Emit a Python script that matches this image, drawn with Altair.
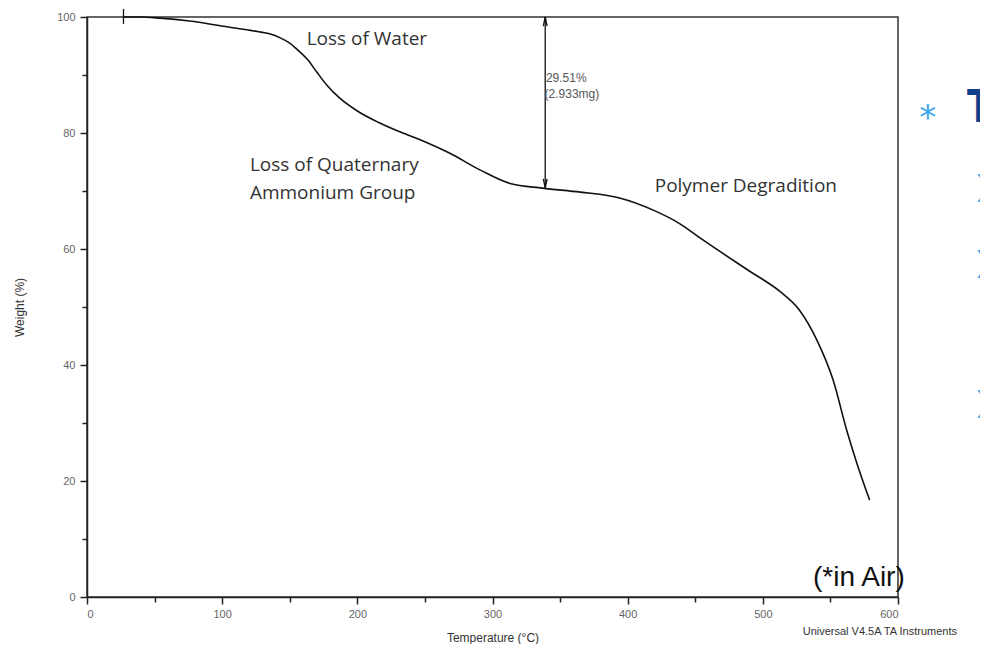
import altair as alt
import pandas as pd

# TGA curve (Temperature °C, Weight %)
temps = [27, 39, 54, 76, 101, 126, 135, 143, 150, 155, 163, 170, 178, 187, 200, 215,
         231.5, 250, 268.5, 291, 313, 337, 365, 394, 419, 439, 453, 490, 512.6, 527,
         540, 552, 562, 569.5, 579]
weights = [100, 100, 99.8, 99.3, 98.4, 97.5, 97.1, 96.4, 95.5, 94.5, 92.7, 90.5, 88.1,
           86.0, 83.8, 81.9, 80.2, 78.5, 76.5, 73.6, 71.3, 70.5, 69.8, 68.8, 66.7, 64.3,
           62.0, 56.2, 52.7, 49.5, 44.3, 37.4, 28.8, 23.1, 16.7]

# start marker and step arrow
start_T = [27]
start_W = [98.8]
start_W2 = [101.4]
arrow_T = [339]
arrow_top = [100]
arrow_bottom = [70.5]

# annotations
big_labels = ["Loss of Water", "Loss of Quaternary", "Ammonium Group", "Polymer Degradition"]
big_T = [162.5, 120.5, 120.5, 420]
big_W = [96.2, 74.4, 69.6, 70.8]

small_labels = ["29.51%", "(2.933mg)"]
small_T = [339.5, 338.5]
small_W = [89.5, 86.7]

air_label = ["(*in Air)"]
air_T = [605]
air_W = [3.3]

footer_label = ["Universal V4.5A TA Instruments"]
footer_T = [529.5]
footer_W = [-6.0]

# slide fragments on the right
frag_star = ["*"]
frag_star_T = [622]
frag_star_W = [82.4]
frag_T_label = ["T"]
frag_T_T = [650.5]
frag_T_W = [84.3]
chevrons = ["❯", "❯", "❯"]
chev_T = [655.5, 655.5, 655.5]
chev_W = [70.7, 57.6, 33.4]

curve = pd.DataFrame({"T": temps, "W": weights})

xscale = alt.Scale(domain=[0, 600], nice=False, zero=False)
yscale = alt.Scale(domain=[0, 100], nice=False, zero=False)

xaxis = alt.Axis(
    values=list(range(0, 601, 25)),
    labelExpr="datum.value % 100 === 0 ? datum.label : ''",
    tickSize={"condition": {"test": "datum.value % 100 === 0", "value": 7}, "value": 5},
    grid=False, domainColor="#222", tickColor="#222", domainWidth=1.5, tickWidth=1.5,
    labelFont="Liberation Sans", labelFontSize=11, labelColor="#666", labelPadding=4,
    title="Temperature (°C)", titleFont="Liberation Sans", titleFontSize=12,
    titleFontWeight="normal", titleColor="#333", titlePadding=13,
)
yaxis = alt.Axis(
    values=list(range(0, 101, 5)),
    labelExpr="datum.value % 20 === 0 ? datum.label : ''",
    tickSize={"condition": {"test": "datum.value % 20 === 0", "value": 7}, "value": 5},
    grid=False, domainColor="#222", tickColor="#222", domainWidth=1.5, tickWidth=1.5,
    labelFont="Liberation Sans", labelFontSize=11, labelColor="#666", labelPadding=5,
    title="Weight (%)", titleFont="Liberation Sans", titleFontSize=12,
    titleFontWeight="normal", titleColor="#333", titlePadding=30,
)

line = alt.Chart(curve).mark_line(color="#111", strokeWidth=1.6, interpolate="monotone").encode(
    x=alt.X("T:Q", scale=xscale, axis=xaxis),
    y=alt.Y("W:Q", scale=yscale, axis=yaxis),
)

start = alt.Chart(pd.DataFrame({"T": start_T, "W": start_W, "W2": start_W2})).mark_rule(
    color="#111", strokeWidth=1.3).encode(x="T:Q", y="W:Q", y2="W2:Q")

arrow_df = pd.DataFrame({"T": arrow_T, "top": arrow_top, "bottom": arrow_bottom})
arrow = alt.Chart(arrow_df).mark_rule(color="#111", strokeWidth=1.3).encode(
    x="T:Q", y="top:Q", y2="bottom:Q")
head_up = alt.Chart(arrow_df).mark_point(
    shape="M -0.45 2.2 L 0 0 L 0.45 2.2", size=70, filled=False, color="#111",
    strokeWidth=1.3, opacity=1).encode(x="T:Q", y="top:Q")
head_down = alt.Chart(arrow_df).mark_point(
    shape="M -0.45 -2.2 L 0 0 L 0.45 -2.2", size=70, filled=False, color="#111",
    strokeWidth=1.3, opacity=1).encode(x="T:Q", y="bottom:Q")

big = alt.Chart(pd.DataFrame({"label": big_labels, "T": big_T, "W": big_W})).mark_text(
    font="Open Sans", fontSize=19, color="#333", align="left", baseline="middle").encode(
    x="T:Q", y="W:Q", text="label:N")

small = alt.Chart(pd.DataFrame({"label": small_labels, "T": small_T, "W": small_W})).mark_text(
    font="Liberation Sans", fontSize=12, color="#555", align="left", baseline="middle").encode(
    x="T:Q", y="W:Q", text="label:N")

air = alt.Chart(pd.DataFrame({"label": air_label, "T": air_T, "W": air_W})).mark_text(
    font="Liberation Sans", fontSize=28, color="#111", align="right", baseline="middle").encode(
    x="T:Q", y="W:Q", text="label:N")

footer = alt.Chart(pd.DataFrame({"label": footer_label, "T": footer_T, "W": footer_W})).mark_text(
    font="Liberation Sans", fontSize=11, color="#333", align="left", baseline="middle").encode(
    x="T:Q", y="W:Q", text="label:N")

star = alt.Chart(pd.DataFrame({"label": frag_star, "T": frag_star_T, "W": frag_star_W})).mark_text(
    font="DejaVu Sans", fontSize=34, color="#3aa8ec", align="center", baseline="middle").encode(
    x="T:Q", y="W:Q", text="label:N")

tletter = alt.Chart(pd.DataFrame({"label": frag_T_label, "T": frag_T_T, "W": frag_T_W})).mark_text(
    font="Open Sans", fontSize=46, color="#123f8c", fontWeight="bold", align="left",
    baseline="middle").encode(x="T:Q", y="W:Q", text="label:N")

chev = alt.Chart(pd.DataFrame({"label": chevrons, "T": chev_T, "W": chev_W})).mark_text(
    font="DejaVu Sans", fontSize=28, color="#3aa8ec", align="left", baseline="middle").encode(
    x="T:Q", y="W:Q", text="label:N")

chart = alt.layer(line, start, arrow, head_up, head_down, big, small, air, footer,
                  star, tletter, chev).properties(
    width=811, height=580,
    background="white",
    autosize=alt.AutoSizeParams(type="none"),
    padding={"left": 79, "top": 9, "right": 82, "bottom": 47},
).configure_view(stroke="#333", strokeWidth=1.5)

chart.save("out.html", embed_options={"renderer": "svg", "actions": False})
